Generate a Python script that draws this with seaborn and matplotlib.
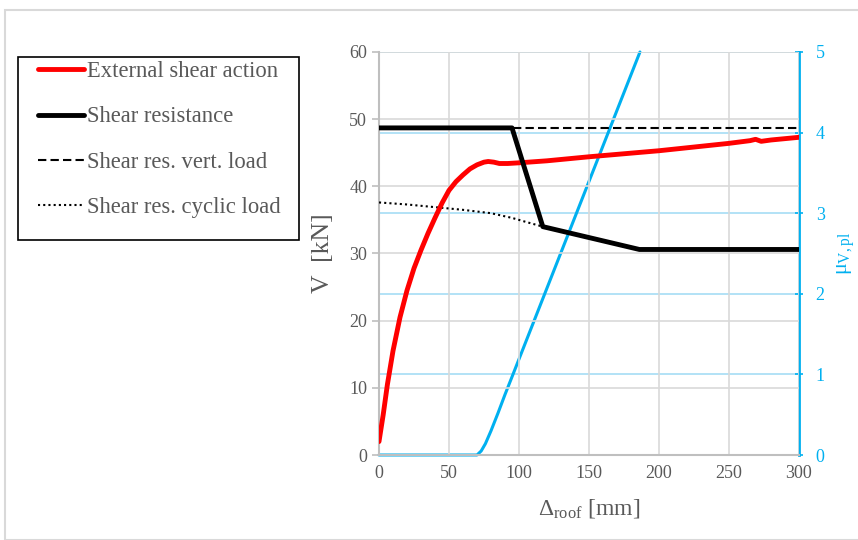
import matplotlib
matplotlib.use("Agg")
import matplotlib.pyplot as plt
import seaborn as sns
import pandas as pd
from matplotlib.patches import Rectangle
from matplotlib.lines import Line2D

# ---- data ----
ext_x = [0, 3, 6, 10, 15, 20, 25, 30, 35, 40, 45, 50, 55, 60, 65, 70, 75, 78, 82, 86, 92, 100, 120, 150, 200, 250, 265, 269, 273, 280, 300]
ext_v = [2.0, 6.0, 10.5, 15.5, 20.5, 24.5, 27.8, 30.5, 33.0, 35.3, 37.5, 39.4, 40.7, 41.7, 42.6, 43.2, 43.6, 43.7, 43.6, 43.4, 43.4, 43.5, 43.8, 44.4, 45.3, 46.4, 46.8, 47.0, 46.7, 46.9, 47.3]

res_x = [0, 95, 117, 186, 300]
res_v = [48.7, 48.7, 34.0, 30.6, 30.6]

vert_x = [96, 300]
vert_v = [48.7, 48.7]

cyc_x = [0, 20, 40, 60, 80, 95, 105, 117]
cyc_v = [37.6, 37.3, 36.9, 36.5, 36.0, 35.3, 34.7, 34.0]

mu_x = [0, 70, 73, 76, 80, 85, 90, 95.7, 186.4]
mu_v = [0, 0, 0.05, 0.14, 0.30, 0.52, 0.75, 1.0, 5.0]

labels = ["External shear action", "Shear resistance", "Shear res. vert. load", "Shear res. cyclic load"]

sns.set_theme(style="white")
plt.rcParams['font.family'] = ['Liberation Serif', 'DejaVu Serif']
plt.rcParams['mathtext.fontset'] = 'custom'
plt.rcParams['mathtext.rm'] = 'Liberation Serif'
plt.rcParams['mathtext.it'] = 'Liberation Serif'

GRAY = "#595959"
BLUE = "#00B0F0"

fig = plt.figure(figsize=(8.58, 5.40), dpi=100)
ax = fig.add_axes([379/858, 1-455/540, 420/858, 403/540])
ax2 = ax.twinx()

# grids
for v in range(10, 61, 10):
    ax.axhline(v, color="#D9D9D9", lw=1.2, zorder=0)
for x in range(50, 301, 50):
    ax.axvline(x, color="#D9D9D9", lw=1.2, zorder=0)
for m in range(1, 6):
    ax2.axhline(m, color="#A6DDF5", lw=1.2, zorder=0)

sns.lineplot(x=ext_x, y=ext_v, ax=ax, color="#FF0000", lw=3.5, zorder=5)
sns.lineplot(x=res_x, y=res_v, ax=ax, color="black", lw=3.5, zorder=5)
sns.lineplot(x=vert_x, y=vert_v, ax=ax, color="black", lw=1.5, linestyle=(0, (4, 2)), zorder=4)
sns.lineplot(x=cyc_x, y=cyc_v, ax=ax, color="black", lw=1.5, linestyle=(0, (1, 1.5)), zorder=4)
sns.lineplot(x=mu_x, y=mu_v, ax=ax2, color=BLUE, lw=2.2, zorder=3)
for ln in ax2.get_lines()[-1:]:
    ln.set_clip_on(False)

ax.set_xlim(0, 300)
ax.set_ylim(0, 60)
ax2.set_ylim(0, 5)
ax.set_xticks(range(0, 301, 50))
ax.set_yticks(range(0, 61, 10))
ax2.set_yticks(range(0, 6))

ax.spines["top"].set_visible(False)
ax2.spines["top"].set_visible(False)
ax.spines["right"].set_visible(False)
ax.spines["left"].set_color("#BFBFBF")
ax.spines["bottom"].set_color("#BFBFBF")
ax.spines["left"].set_linewidth(1.5)
ax.spines["bottom"].set_linewidth(1.5)
ax2.spines["left"].set_visible(False)
ax2.spines["bottom"].set_visible(False)
ax2.spines["right"].set_color(BLUE)
ax2.spines["right"].set_linewidth(2.0)

ax.set_zorder(ax2.get_zorder() + 1)
ax.patch.set_visible(False)
ax.spines["bottom"].set_zorder(0.5)

ax.tick_params(axis="both", labelsize=13, labelcolor=GRAY, colors="#BFBFBF", length=5, width=1.2, direction="out")
ax.tick_params(axis="x", length=0, pad=7)
for t in ax.get_xticklabels() + ax.get_yticklabels():
    t.set_color(GRAY)
ax2.tick_params(axis="y", labelsize=13, colors=BLUE, labelcolor=BLUE, length=6, width=1.2, direction="inout", pad=9)

ax.set_ylabel("V  [kN]", fontsize=18.5, color=GRAY)
ax.yaxis.set_label_coords(-0.108, 0.5)
ax.set_xlabel(r"$\Delta_{\mathrm{roof}}$ [mm]", fontsize=17, color=GRAY)
ax.xaxis.set_label_coords(0.5, -0.105)
ax2.set_ylabel(r"$\mu_{\mathrm{V,pl}}$", fontsize=16, color=BLUE, rotation=90)
ax2.yaxis.set_label_coords(1.088, 0.5)

# outer border
fig.patches.append(Rectangle((5/858, 0), 1, 1-10/540, transform=fig.transFigure,
                             fill=False, edgecolor="#D9D9D9", lw=1.5))

# legend box
fig.patches.append(Rectangle((18/858, 1-240/540), 281/858, 183/540, transform=fig.transFigure,
                             fill=False, edgecolor="black", lw=1.2))
handles = [
    Line2D([], [], color="#FF0000", lw=3.5),
    Line2D([], [], color="black", lw=3.5),
    Line2D([], [], color="black", lw=1.5, linestyle=(0, (4, 2))),
    Line2D([], [], color="black", lw=1.5, linestyle=(0, (1, 1.5))),
]
leg = fig.legend(handles, labels, loc="upper left", bbox_to_anchor=(38/858, 1-61/540),
                 frameon=False, fontsize=16.3, handlelength=2.05, handletextpad=0.12,
                 labelspacing=1.08, borderaxespad=0, borderpad=0)
for t in leg.get_texts():
    t.set_color(GRAY)

fig.savefig("out.png", dpi=100)
